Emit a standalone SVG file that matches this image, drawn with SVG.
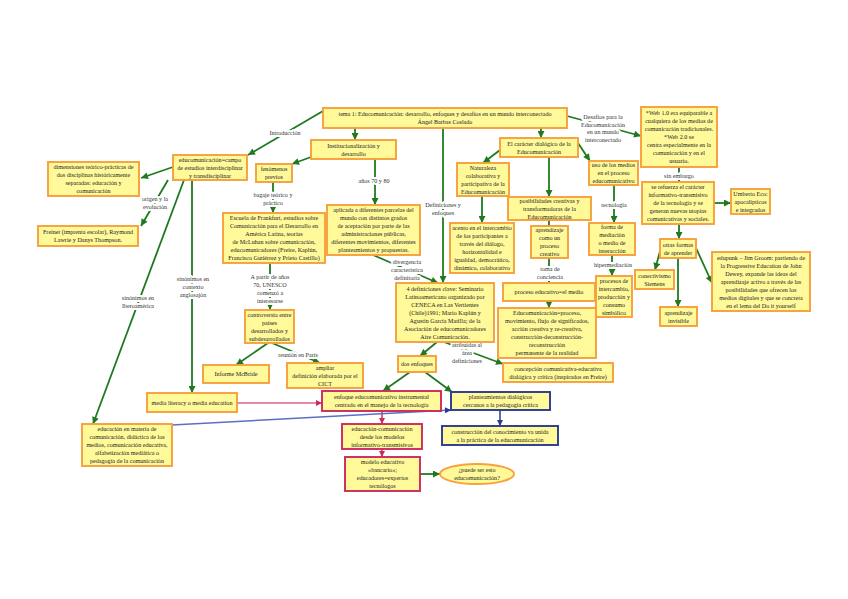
<svg xmlns="http://www.w3.org/2000/svg" width="848" height="599" viewBox="0 0 848 599">
<defs>
<style>
.n rect,.n ellipse{fill:#fff99a;stroke:#f7a03c;stroke-width:1.9}
.cr rect{stroke:#cc2a5e}
.nv rect{stroke:#2b3990}
text{font-family:"Liberation Serif","Times New Roman",serif;font-size:6.1px;fill:#222;text-anchor:middle}
.lbl{fill:#333;paint-order:stroke;stroke:#fff;stroke-width:4px;stroke-linejoin:round}
.g{stroke:#1f7a1f;stroke-width:1.8;fill:none;marker-end:url(#ag)}
.gn{stroke:#1f7a1f;stroke-width:1.8;fill:none}
.c{stroke:#cc2a5e;stroke-width:1.5;fill:none;marker-end:url(#ac)}
.p{stroke:#e0608a;stroke-width:1.5;fill:none;marker-end:url(#ac)}
.b{stroke:#2b3990;stroke-width:1.5;fill:none;marker-end:url(#ab)}
.bl{stroke:#5b6fc4;stroke-width:1.5;fill:none;marker-end:url(#ab)}
</style>
<marker id="ag" viewBox="0 0 10 10" refX="10" refY="5" markerWidth="8" markerHeight="7" markerUnits="userSpaceOnUse" orient="auto"><path d="M0,0L10,5L0,10z" fill="#1f7a1f"/></marker>
<marker id="ac" viewBox="0 0 10 10" refX="10" refY="5" markerWidth="7" markerHeight="6" markerUnits="userSpaceOnUse" orient="auto"><path d="M0,0L10,5L0,10z" fill="#cc2a5e"/></marker>
<marker id="ab" viewBox="0 0 10 10" refX="10" refY="5" markerWidth="7" markerHeight="6" markerUnits="userSpaceOnUse" orient="auto"><path d="M0,0L10,5L0,10z" fill="#2b3990"/></marker>
</defs>
<rect width="848" height="599" fill="#fff"/>

<g id="connectors">
<line class="g" x1="323" y1="111" x2="248" y2="155"/>
<line class="g" x1="355" y1="128" x2="355" y2="140"/>
<line class="g" x1="443" y1="128" x2="443" y2="283"/>
<line class="g" x1="541" y1="128" x2="541" y2="138"/>
<line class="g" x1="567" y1="116" x2="641" y2="136"/>
<line class="g" x1="173" y1="167" x2="141" y2="178"/>
<line class="g" x1="168" y1="180" x2="141" y2="226"/>
<line class="g" x1="184" y1="180" x2="93" y2="424"/>
<line class="g" x1="192" y1="180" x2="192" y2="393"/>
<line class="g" x1="311" y1="157" x2="292" y2="164"/>
<line class="g" x1="375" y1="159" x2="375" y2="205"/>
<line class="g" x1="273" y1="182" x2="273" y2="213"/>
<line class="g" x1="270" y1="263" x2="270" y2="310"/>
<line class="g" x1="268" y1="343" x2="236" y2="365"/>
<line class="g" x1="272" y1="343" x2="320" y2="363"/>
<line class="g" x1="373" y1="255" x2="438" y2="283"/>
<line class="g" x1="437" y1="342" x2="420" y2="356"/>
<line class="g" x1="444" y1="342" x2="503" y2="364"/>
<line class="g" x1="410" y1="372" x2="383" y2="391"/>
<line class="g" x1="425" y1="372" x2="452" y2="392"/>
<line class="c" x1="382" y1="411" x2="382" y2="424"/>
<line class="c" x1="382" y1="449" x2="382" y2="457"/>
<line class="g" x1="420" y1="474" x2="440" y2="474"/>
<line class="b" x1="500" y1="410" x2="500" y2="426"/>
<line class="p" x1="237" y1="403" x2="322" y2="403"/>
<line class="bl" x1="172" y1="425" x2="451" y2="410"/>
<line class="g" x1="500" y1="150" x2="483" y2="163"/>
<line class="g" x1="549" y1="157" x2="549" y2="197"/>
<line class="g" x1="578" y1="143" x2="590" y2="161"/>
<line class="g" x1="482" y1="196" x2="482" y2="223"/>
<line class="gn" x1="549" y1="220" x2="549" y2="226"/>
<line class="g" x1="549" y1="258" x2="549" y2="283"/>
<line class="g" x1="549" y1="301" x2="549" y2="308"/>
<line class="g" x1="614" y1="185" x2="614" y2="223"/>
<line class="g" x1="612" y1="255" x2="612" y2="276"/>
<line class="g" x1="679" y1="167" x2="679" y2="182"/>
<line class="g" x1="714" y1="203" x2="731" y2="203"/>
<line class="g" x1="679" y1="224" x2="679" y2="239"/>
<line class="g" x1="660" y1="251" x2="655" y2="270"/>
<line class="g" x1="678" y1="258" x2="678" y2="307"/>
<line class="g" x1="696" y1="248" x2="712" y2="283"/>

<text class="lbl" x="285" y="135">Introducción</text>
<text class="lbl" x="155" y="201">origen y la</text>
<text class="lbl" x="155" y="209">evolución</text>
<text class="lbl" x="138" y="300">sinónimos en</text>
<text class="lbl" x="138" y="308">Iberoamérica</text>
<text class="lbl" x="193" y="281">sinónimos en</text>
<text class="lbl" x="193" y="289">contexto</text>
<text class="lbl" x="193" y="297">anglosajón</text>
<text class="lbl" x="273" y="197">bagaje teórico y</text>
<text class="lbl" x="273" y="205">práctico</text>
<text class="lbl" x="374" y="183">años 70 y 80</text>
<text class="lbl" x="407" y="264">divergencia</text>
<text class="lbl" x="407" y="272">característica</text>
<text class="lbl" x="407" y="280">definitoria</text>
<text class="lbl" x="270" y="279">A partir de años</text>
<text class="lbl" x="270" y="287">70, UNESCO</text>
<text class="lbl" x="270" y="295">comenzó a</text>
<text class="lbl" x="270" y="303">interesarse</text>
<text class="lbl" x="298" y="357">reunión en París</text>
<text class="lbl" x="443" y="207">Definiciones y</text>
<text class="lbl" x="443" y="215">enfoques</text>
<text class="lbl" x="467" y="347">atribuidas al</text>
<text class="lbl" x="467" y="355">área</text>
<text class="lbl" x="467" y="363">definiciones</text>
<text class="lbl" x="603" y="119">Desafíos para la</text>
<text class="lbl" x="603" y="127">Educomunicación</text>
<text class="lbl" x="603" y="134">en un mundo</text>
<text class="lbl" x="603" y="142">interconectado</text>
<text class="lbl" x="614" y="207">tecnología</text>
<text class="lbl" x="550" y="271">toma de</text>
<text class="lbl" x="550" y="279">conciencia</text>
<text class="lbl" x="613" y="267">hipermediación</text>
<text class="lbl" x="679" y="178">sin embargo</text>
</g>

<g id="title" class="n"><rect x="323" y="108" width="244" height="20"/><text x="445" y="116">tema 1: Educomunicación: desarrollo, enfoques y desafíos en un mundo interconectado</text><text x="445" y="124">Ángel Barbas Coslado</text></g>
<g id="educ" class="n"><rect x="173" y="155" width="74" height="25"/><text x="210" y="161.5">educomunicación=campo</text><text x="210" y="169.5">de estudios interdisciplinar</text><text x="210" y="177.5">y transdisciplinar</text></g>
<g id="dim" class="n"><rect x="48" y="162" width="91" height="34"/><text x="93.5" y="169">dimensiones teórico-prácticas de</text><text x="93.5" y="177">dos disciplinas históricamente</text><text x="93.5" y="185">separadas: educación y</text><text x="93.5" y="193">comunicación</text></g>
<g id="freinet" class="n"><rect x="38" y="226" width="100" height="20"/><text x="88" y="234">Freinet (imprenta escolar), Raymond</text><text x="88" y="242">Lawrie y Danys Thompson.</text></g>
<g id="inst" class="n"><rect x="311" y="140" width="85" height="19"/><text x="353.5" y="147.5">Institucionalización y</text><text x="353.5" y="155.5">desarrollo</text></g>
<g id="fen" class="n"><rect x="256" y="164" width="36" height="18"/><text x="274" y="171">fenómenos</text><text x="274" y="179">previos</text></g>
<g id="escuela" class="n"><rect x="223" y="213" width="102" height="50"/><text x="274" y="220">Escuela de Frankfurt, estudios sobre</text><text x="274" y="228">Comunicación para el Desarrollo en</text><text x="274" y="236">América Latina, teorías</text><text x="274" y="244">de McLuhan sobre comunicación,</text><text x="274" y="252">educomunicadores (Freire, Kaplún,</text><text x="274" y="260">Francisco Gutiérrez y Prieto Castillo)</text></g>
<g id="aplicada" class="n"><rect x="327" y="205" width="93" height="50"/><text x="373.5" y="212">aplicada a diferentes parcelas del</text><text x="373.5" y="220">mundo con distintos grados</text><text x="373.5" y="228">de aceptación por parte de las</text><text x="373.5" y="236">administraciones públicas,</text><text x="373.5" y="244">diferentes movimientos, diferentes</text><text x="373.5" y="252">planteamientos y propuestas.</text></g>
<g id="controversia" class="n"><rect x="245" y="310" width="49" height="33"/><text x="269.5" y="316.5">controversia entre</text><text x="269.5" y="324.5">países</text><text x="269.5" y="332.5">desarrollados y</text><text x="269.5" y="340.5">subdesarrollados</text></g>
<g id="mcbride" class="n"><rect x="203" y="365" width="66" height="18"/><text x="236" y="376">Informe McBride</text></g>
<g id="ampliar" class="n"><rect x="287" y="363" width="76" height="25"/><text x="325" y="369.5">ampliar</text><text x="325" y="377.5">definición elaborada por el</text><text x="325" y="385.5">CICT</text></g>
<g id="medialit" class="n"><rect x="147" y="393" width="90" height="19"/><text x="192" y="404.5">media literacy o media education</text></g>
<g id="educmat" class="n"><rect x="82" y="424" width="90" height="42"/><text x="127" y="431">educación en materia de</text><text x="127" y="439">comunicación, didáctica de los</text><text x="127" y="447">medios, comunicación educativa,</text><text x="127" y="455">alfabetización mediática o</text><text x="127" y="463">pedagogía de la comunicación</text></g>
<g id="enfinst" class="n cr"><rect x="322" y="391" width="119" height="20"/><text x="381.5" y="399">enfoque educomunicativo instrumental</text><text x="381.5" y="407">centrado en el manejo de la tecnología</text></g>
<g id="educcom" class="n cr"><rect x="342" y="424" width="80" height="25"/><text x="382" y="430.5">educación-comunicación</text><text x="382" y="438.5">desde los modelos</text><text x="382" y="446.5">informativo-transmisivos</text></g>
<g id="modelo" class="n cr"><rect x="345" y="457" width="75" height="34"/><text x="382.5" y="464">modelo educativo</text><text x="382.5" y="472">«bancario»;</text><text x="382.5" y="480">educadores=expertos</text><text x="382.5" y="488">tecnólogos</text></g>
<g id="pregunta" class="n"><ellipse cx="477" cy="474" rx="37" ry="10"/><text x="477" y="472">¿puede ser esto</text><text x="477" y="480">educomunicación?</text></g>
<g id="plante" class="n nv"><rect x="451" y="392" width="99" height="18"/><text x="500.5" y="399">planteamientos dialógicos</text><text x="500.5" y="407">cercanos a la pedagogía crítica</text></g>
<g id="constr" class="n nv"><rect x="442" y="426" width="116" height="19"/><text x="500" y="433.5">construcción del conocimiento va unida</text><text x="500" y="441.5">a la práctica de la educomunicación</text></g>
<g id="concep" class="n"><rect x="503" y="363" width="110" height="19"/><text x="558" y="370.5">concepción comunicativa-educativa</text><text x="558" y="378.5">dialógica y crítica (inspirados en Freire)</text></g>
<g id="dos" class="n"><rect x="398" y="356" width="38" height="16"/><text x="417" y="366">dos enfoques</text></g>
<g id="def4" class="n"><rect x="396" y="283" width="98" height="59"/><text x="445" y="290.5">4 definiciones clave: Seminario</text><text x="445" y="298.5">Latinoamericano organizado por</text><text x="445" y="306.5">CENECA en Las Vertientes</text><text x="445" y="314.5">(Chile)1991; Mario Kaplún y</text><text x="445" y="322.5">Agustín García Matilla; de la</text><text x="445" y="330.5">Asociación de educomunicadores</text><text x="445" y="338.5">Aire Comunicación.</text></g>
<g id="caracter" class="n"><rect x="500" y="138" width="78" height="19"/><text x="539" y="145.5">El carácter dialógico de la</text><text x="539" y="153.5">Educomunicación</text></g>
<g id="natur" class="n"><rect x="457" y="163" width="52" height="33"/><text x="483" y="169.5">Naturaleza</text><text x="483" y="177.5">colaborativa y</text><text x="483" y="185.5">participativa de la</text><text x="483" y="193.5">Educomunicación</text></g>
<g id="acento" class="n"><rect x="450" y="223" width="64" height="50"/><text x="482" y="230">acento en el intercambio</text><text x="482" y="238">de los participantes a</text><text x="482" y="246">través del diálogo,</text><text x="482" y="254">horizontalidad e</text><text x="482" y="262">igualdad, democrático,</text><text x="482" y="270">dinámico, colaborativo</text></g>
<g id="posib" class="n"><rect x="508" y="197" width="83" height="23"/><text x="549.5" y="202.5">posibilidades creativas y</text><text x="549.5" y="210.5">transformadoras de la</text><text x="549.5" y="218.5">Educomunicación</text></g>
<g id="aprend" class="n"><rect x="531" y="226" width="37" height="32"/><text x="549.5" y="232">aprendizaje</text><text x="549.5" y="240">como un</text><text x="549.5" y="248">proceso</text><text x="549.5" y="256">creativo</text></g>
<g id="proceso" class="n"><rect x="503" y="283" width="92" height="18"/><text x="549" y="294">proceso educativo=el medio</text></g>
<g id="educproc" class="n"><rect x="498" y="308" width="98" height="50"/><text x="547" y="315">Educomunicación=proceso,</text><text x="547" y="323">movimiento, flujo de significados,</text><text x="547" y="331">acción creativa y re-creativa,</text><text x="547" y="339">construcción-deconstrucción-</text><text x="547" y="347">reconstrucción</text><text x="547" y="355">permanente de la realidad</text></g>
<g id="uso" class="n"><rect x="589" y="161" width="49" height="24"/><text x="613.5" y="167">uso de los medios</text><text x="613.5" y="175">en el proceso</text><text x="613.5" y="183">educomunicativo</text></g>
<g id="forma" class="n"><rect x="589" y="223" width="46" height="32"/><text x="612" y="229">forma de</text><text x="612" y="237">mediación</text><text x="612" y="245">o medio de</text><text x="612" y="253">interacción</text></g>
<g id="procint" class="n"><rect x="596" y="276" width="36" height="41"/><text x="614" y="282.5">procesos de</text><text x="614" y="290.5">intercambio,</text><text x="614" y="298.5">producción y</text><text x="614" y="306.5">consumo</text><text x="614" y="314.5">simbólico</text></g>
<g id="web" class="n"><rect x="641" y="107" width="76" height="60"/><text x="679" y="115">*Web 1.0 era equiparable a</text><text x="679" y="123">cualquiera de los medios de</text><text x="679" y="131">comunicación tradicionales.</text><text x="679" y="139">*Web 2.0 se</text><text x="679" y="147">centra especialmente en la</text><text x="679" y="155">comunicación y en el</text><text x="679" y="163">usuario.</text></g>
<g id="refuerza" class="n"><rect x="642" y="182" width="72" height="42"/><text x="678" y="189">se refuerza el carácter</text><text x="678" y="197">informativo-transmisivo</text><text x="678" y="205">de la tecnología y se</text><text x="678" y="213">generan nuevas utopías</text><text x="678" y="221">comunicativas y sociales.</text></g>
<g id="eco" class="n"><rect x="731" y="189" width="39" height="25"/><text x="750.5" y="195.5">Umberto Eco:</text><text x="750.5" y="203.5">apocalípticos</text><text x="750.5" y="211.5">e integrados</text></g>
<g id="otras" class="n"><rect x="660" y="239" width="36" height="19"/><text x="678" y="246.5">otras formas</text><text x="678" y="254.5">de aprender</text></g>
<g id="conect" class="n"><rect x="635" y="270" width="39" height="19"/><text x="654.5" y="277.5">conectivismo</text><text x="654.5" y="285.5">Siemens</text></g>
<g id="invis" class="n"><rect x="660" y="307" width="37" height="19"/><text x="678.5" y="314.5">aprendizaje</text><text x="678.5" y="322.5">invisible</text></g>
<g id="edupunk" class="n"><rect x="712" y="252" width="98" height="59"/><text x="761" y="259.5">edupunk – Jim Groom: partiendo de</text><text x="761" y="267.5">la Progressive Education de John</text><text x="761" y="275.5">Dewey, expande las ideas del</text><text x="761" y="283.5">aprendizaje activo a través de las</text><text x="761" y="291.5">posibilidades que ofrecen los</text><text x="761" y="299.5">medios digitales y que se concreta</text><text x="761" y="307.5">en el lema del Do it yourself</text></g>
</svg>
